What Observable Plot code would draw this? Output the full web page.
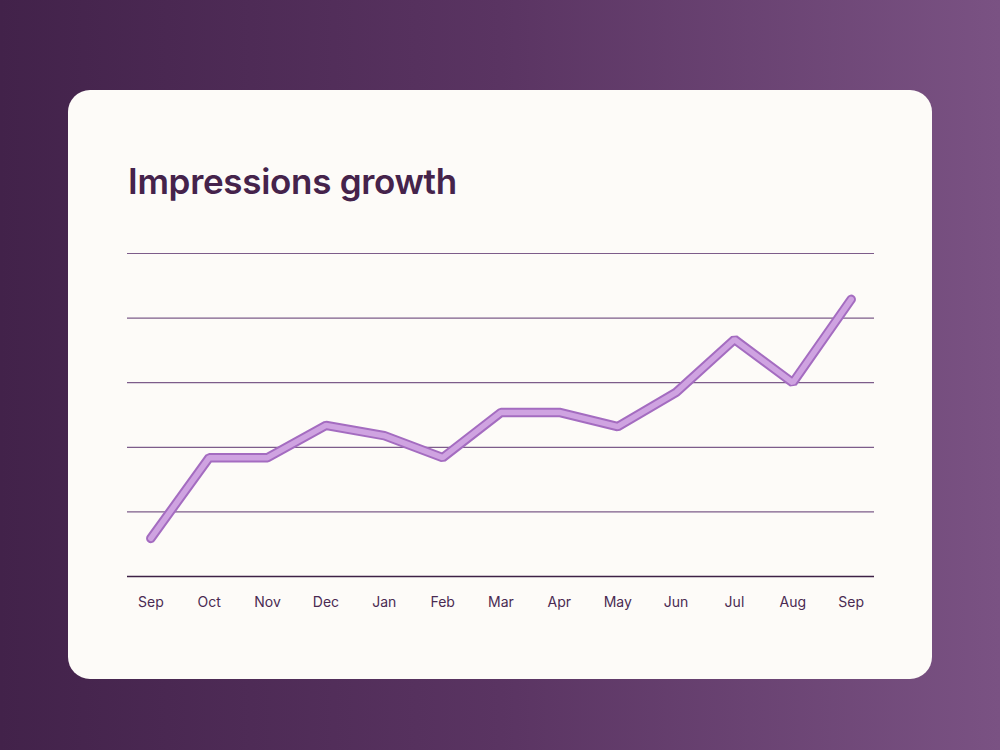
<!DOCTYPE html>
<html>
<head>
<meta charset="utf-8">
<script src="https://cdn.jsdelivr.net/npm/d3@7"></script>
<script src="https://cdn.jsdelivr.net/npm/@observablehq/plot@0.6"></script>
<style>
  html, body { margin: 0; padding: 0; }
  body {
    width: 1000px; height: 750px; overflow: hidden; position: relative;
    background: linear-gradient(90deg, #42224a 0%, #5a3462 50%, #7a5283 100%);
    font-family: Inter, "Noto Sans", sans-serif;
  }
  .card {
    position: absolute; left: 68px; top: 90px; width: 864px; height: 589px;
    background: #fdfbf8; border-radius: 22px;
  }
  .title {
    position: absolute; left: 60px; top: 70px; margin: 0;
    font-size: 35px; font-weight: 600; color: #45234b; letter-spacing: -0.3px;
  }
  #chart { position: absolute; left: 39px; top: 153px; }
</style>
</head>
<body>
<div class="card">
  <h1 class="title">Impressions growth</h1>
  <div id="chart"></div>
</div>
<script>
// Monthly labels, September to September
const months = ["Sep", "Oct", "Nov", "Dec", "Jan", "Feb", "Mar", "Apr", "May", "Jun", "Jul", "Aug", "Sep"];
// Impressions (index units per gridline step)
const impressions = [0.59, 1.84, 1.84, 2.34, 2.18, 1.84, 2.54, 2.54, 2.32, 2.85, 3.67, 3.0, 4.29];
const gridValues = [1, 2, 3, 4, 5];

const data = months.map((m, i) => ({i, month: m, value: impressions[i]}));

const chart = Plot.plot({
  width: 787,
  height: 373,
  marginLeft: 20,
  marginRight: 20,
  marginTop: 10,
  marginBottom: 40,
  style: {background: "transparent", fontFamily: "Inter, 'Noto Sans', sans-serif", fontSize: "14px", color: "#4a2a52"},
  x: {type: "point", domain: d3.range(months.length), padding: 0.4, round: false, label: null},
  y: {domain: [0, 5], axis: null},
  marks: [
    Plot.ruleY(gridValues, {stroke: "#7d5c8a", strokeWidth: 1.2}),
    Plot.ruleY([0], {stroke: "#3e2146", strokeWidth: 1.5}),
    Plot.axisX({tickSize: 0, tickPadding: 21, label: null, tickFormat: i => months[i], fill: "#4a2a52", fontSize: 14}),
    Plot.line(data, {x: "i", y: "value", stroke: "#a46cc0", strokeWidth: 9.5, strokeLinejoin: "miter", strokeLinecap: "round"}),
    Plot.line(data, {x: "i", y: "value", stroke: "#cfa3e1", strokeWidth: 5.5, strokeLinejoin: "miter", strokeLinecap: "round"})
  ]
});
document.getElementById("chart").appendChild(chart);
</script>
</body>
</html>
